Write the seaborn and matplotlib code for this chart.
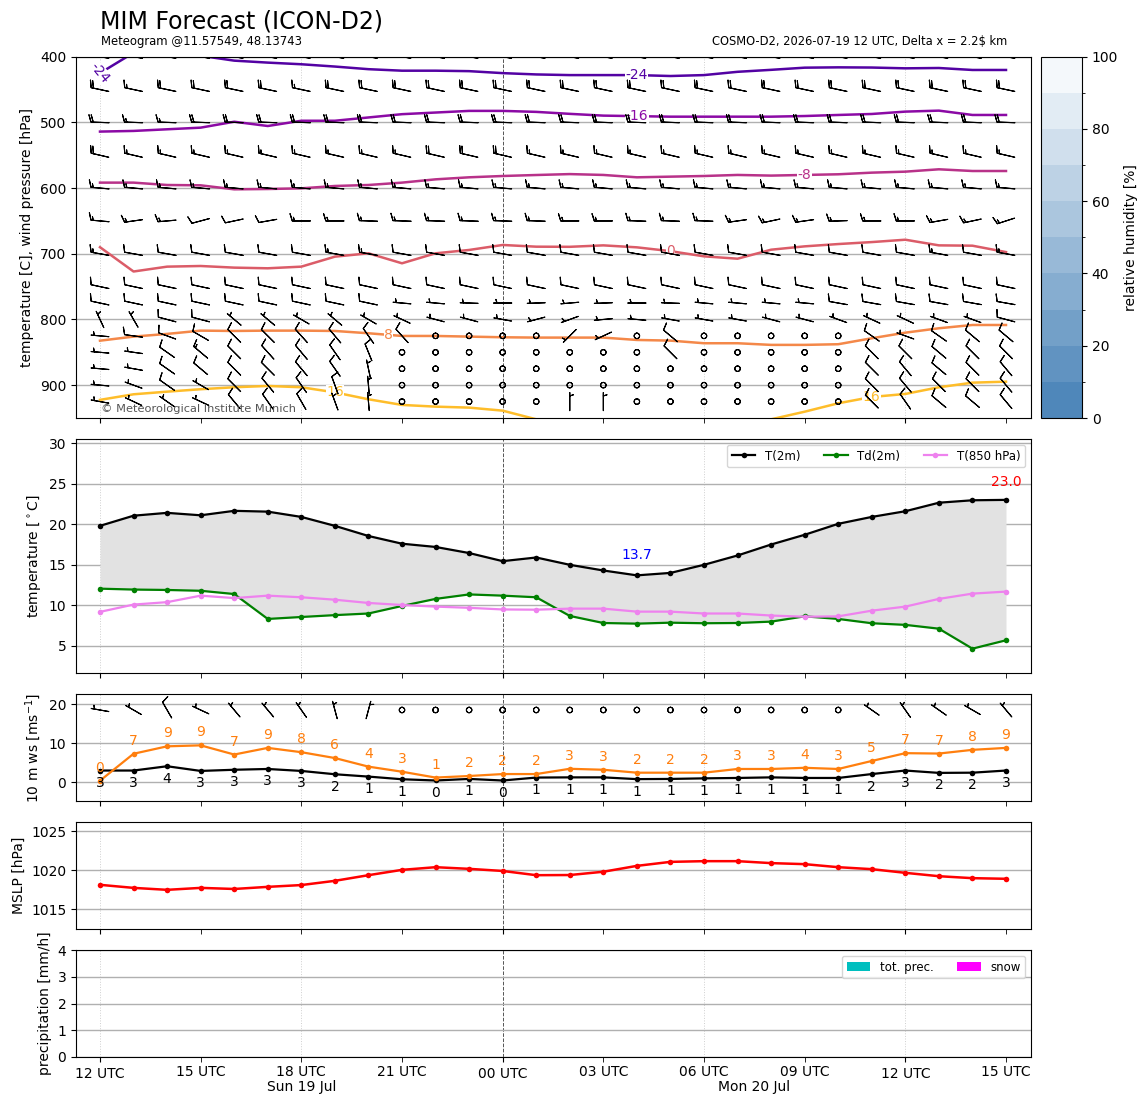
import numpy as np
import matplotlib
matplotlib.use("Agg")
import matplotlib.pyplot as plt
import seaborn as sns
from matplotlib.colors import LinearSegmentedColormap, ListedColormap, BoundaryNorm, Normalize
from matplotlib.cm import ScalarMappable
from matplotlib.ticker import FixedLocator, FixedFormatter, NullFormatter

plt.rcParams['font.family'] = ['DejaVu Sans']
plt.rcParams['font.size'] = 10

# ---------------- data ----------------
lead_hours = [0, 1, 2, 3, 4, 5, 6, 7, 8, 9, 10, 11, 12, 13,
              14, 15, 16, 17, 18, 19, 20, 21, 22, 23, 24, 25, 26, 27]

major_hours = [0, 12, 24]
major_labels = ["12 UTC", "00 UTC", "12 UTC"]
minor_hours = [3, 6, 9, 15, 18, 21, 27]
minor_labels = ["15 UTC", "18 UTC", "21 UTC", "03 UTC", "06 UTC", "09 UTC", "15 UTC"]
date_labels = ["Sun 19 Jul", "Mon 20 Jul"]
date_label_hours = [6, 19.5]
guide_hours = [0, 6, 18, 24]
midnight_hour = 12

# isotherm positions (pressure, hPa) per hour
iso_levels = [-24, -16, -8, 0, 8, 16]
iso_m24 = [425, 394, 392, 398.6, 406, 409, 411.5, 415, 419, 421.3, 421.3, 422, 425, 427,
           428, 428, 428, 429.4, 428, 423, 420, 416.7, 416.2, 416.5, 417.7, 417.2, 420.2, 420.2]
iso_m16 = [514, 513, 510.5, 508, 499, 505.5, 497.5, 497.5, 492.5, 487.5, 485, 482.5, 482.5, 484,
           487, 489.7, 490.5, 491.3, 491.3, 491.3, 491.3, 490.3, 488.7, 487.2, 483.6, 482.1, 488.7, 488.7]
iso_m8 = [591.7, 591.7, 595.3, 595.8, 601.9, 601.4, 600.4, 596.8, 595.3, 591.7, 586.7, 583.6, 581.6, 580.1,
          578.7, 580, 583.6, 582.6, 581.6, 580, 581, 580, 579, 576.5, 575, 571.4, 574, 574]
iso_0 = [690, 727, 719.6, 718.6, 721.1, 722.1, 719.6, 704.4, 699.3, 714.5, 699.3, 694.2, 686.6, 689.2,
         689.4, 687.2, 690.2, 696, 703.9, 707.5, 693.8, 688.7, 685.2, 682.2, 678.6, 687.2, 687.7, 697.4]
iso_p8 = [832.3, 826.1, 822, 817, 817.5, 817, 817, 817.5, 821, 825.1, 825.1, 826.1, 827.1, 827.6,
          827.6, 827.6, 831.2, 832.2, 836.2, 836.2, 838.7, 838.7, 837.7, 828.6, 820.1, 813.4, 808.4, 808.4]
iso_p16 = [922.4, 913.9, 909.9, 906.2, 903.2, 901.2, 903.2, 911, 921.5, 930.1, 932.7, 934.2, 938.8, 952,
           958, 962, 963, 962, 960, 957, 952, 940.4, 927.6, 918, 913.4, 903.2, 896.2, 894.7]
# label hour for each isotherm
iso_label_hours = {-24: [0, 16], -16: [16], -8: [21], 0: [17], 8: [8.6], 16: [7, 23]}

# wind barbs aloft (knots, direction in deg from)
barb_levels = [400, 450, 500, 550, 600, 650, 700, 750, 775, 800, 825, 850, 875, 900, 925]
barb_speed = [
    [25, 25, 25, 25, 25, 25, 25, 25, 25, 25, 25, 25, 25, 25, 25, 25, 25, 25, 25, 25, 25, 25, 25, 25, 25, 25, 25, 25],
    [20, 15, 20, 20, 20, 20, 15, 20, 20, 20, 20, 20, 20, 20, 20, 20, 20, 20, 20, 20, 20, 20, 20, 20, 20, 20, 20, 20],
    [20, 15, 15, 20, 20, 20, 20, 20, 20, 20, 20, 20, 20, 20, 20, 20, 20, 20, 20, 20, 20, 20, 20, 20, 20, 20, 20, 20],
    [20, 15, 15, 15, 15, 15, 15, 15, 15, 15, 20, 20, 20, 15, 15, 15, 15, 15, 15, 15, 15, 15, 15, 15, 15, 15, 15, 15],
    [15, 15, 15, 15, 15, 15, 15, 15, 15, 15, 15, 15, 15, 15, 15, 15, 15, 15, 15, 15, 15, 15, 15, 15, 15, 15, 15, 15],
    [15, 15, 15, 10, 10, 10, 15, 15, 15, 15, 15, 15, 15, 15, 15, 15, 15, 15, 15, 15, 15, 15, 15, 15, 15, 15, 15, 15],
    [15, 10, 10, 10, 10, 10, 10, 15, 15, 10, 10, 10, 10, 10, 10, 10, 10, 10, 10, 10, 10, 10, 10, 10, 10, 15, 10, 15],
    [10, 10, 10, 10, 10, 10, 10, 10, 10, 10, 10, 10, 10, 10, 10, 10, 10, 10, 10, 10, 10, 10, 10, 10, 10, 10, 10, 10],
    [10, 10, 10, 10, 10, 10, 10, 10, 10, 5, 5, 5, 5, 5, 5, 5, 5, 5, 5, 5, 5, 5, 10, 10, 10, 10, 10, 10],
    [5, 5, 10, 10, 5, 5, 5, 5, 5, 5, 5, 5, 5, 5, 5, 5, 5, 5, 5, 5, 5, 5, 5, 5, 5, 5, 5, 10],
    [5, 10, 10, 10, 10, 10, 10, 10, 10, 10, 0, 0, 0, 0, 5, 5, 0, 10, 0, 0, 0, 0, 0, 10, 5, 10, 10, 10],
    [5, 5, 10, 15, 10, 10, 10, 10, 10, 0, 0, 0, 0, 0, 0, 0, 0, 10, 0, 0, 0, 0, 0, 10, 10, 10, 10, 10],
    [5, 5, 10, 10, 10, 10, 10, 10, 5, 0, 0, 0, 0, 0, 0, 0, 0, 0, 0, 0, 0, 0, 0, 10, 10, 10, 10, 10],
    [5, 5, 10, 5, 10, 10, 10, 10, 5, 0, 0, 0, 0, 0, 0, 0, 0, 0, 0, 0, 0, 0, 0, 10, 10, 10, 10, 10],
    [5, 5, 5, 5, 10, 10, 10, 5, 5, 0, 0, 0, 0, 0, 5, 5, 0, 0, 0, 0, 0, 0, 0, 10, 10, 10, 10, 10],
]
barb_dir = [
    [280, 280, 280, 280, 280, 280, 280, 280, 280, 280, 280, 280, 280, 280, 280, 280, 280, 280, 280, 280, 280, 280, 280, 280, 280, 280, 280, 280],
    [282, 282, 282, 282, 282, 282, 282, 282, 282, 282, 282, 282, 282, 282, 282, 282, 282, 282, 282, 282, 282, 282, 282, 282, 282, 282, 282, 282],
    [272, 272, 272, 272, 272, 272, 272, 272, 272, 272, 272, 272, 272, 272, 272, 272, 272, 272, 272, 272, 272, 272, 272, 272, 272, 272, 272, 272],
    [283, 283, 283, 283, 283, 283, 283, 283, 283, 283, 283, 283, 283, 283, 283, 283, 283, 283, 283, 283, 283, 283, 283, 283, 283, 283, 283, 283],
    [275, 275, 275, 275, 275, 275, 275, 275, 275, 275, 275, 275, 275, 275, 275, 275, 275, 275, 275, 275, 275, 275, 275, 275, 275, 275, 275, 275],
    [275, 262, 265, 255, 258, 260, 270, 270, 272, 272, 272, 272, 272, 272, 270, 270, 272, 272, 272, 262, 258, 262, 268, 270, 270, 260, 258, 252],
    [280, 280, 280, 280, 280, 280, 280, 280, 280, 280, 280, 280, 280, 280, 280, 280, 280, 280, 280, 280, 280, 280, 280, 280, 280, 280, 280, 280],
    [282, 282, 282, 282, 282, 282, 282, 282, 282, 282, 282, 282, 282, 282, 282, 282, 282, 282, 282, 282, 282, 282, 282, 282, 282, 282, 282, 282],
    [282, 282, 282, 282, 282, 282, 282, 282, 282, 275, 275, 272, 270, 268, 265, 268, 270, 272, 275, 275, 275, 275, 280, 280, 280, 280, 280, 280],
    [335, 330, 285, 285, 310, 310, 300, 310, 300, 295, 285, 285, 280, 255, 250, 265, 275, 280, 280, 280, 285, 285, 290, 295, 295, 290, 290, 285],
    [275, 278, 290, 300, 315, 315, 318, 320, 325, 318, 0, 0, 0, 0, 225, 245, 0, 310, 0, 0, 0, 0, 0, 305, 290, 305, 310, 310],
    [275, 278, 305, 310, 315, 318, 320, 325, 338, 0, 0, 0, 0, 0, 0, 0, 0, 315, 0, 0, 0, 0, 0, 315, 315, 310, 315, 315],
    [275, 280, 305, 310, 315, 315, 320, 325, 348, 0, 0, 0, 0, 0, 0, 0, 0, 0, 0, 0, 0, 0, 0, 315, 320, 310, 315, 320],
    [275, 290, 305, 300, 315, 320, 325, 340, 355, 0, 0, 0, 0, 0, 0, 0, 0, 0, 0, 0, 0, 0, 0, 315, 320, 315, 315, 320],
    [280, 295, 305, 295, 320, 325, 330, 340, 355, 0, 0, 0, 0, 0, 360, 360, 0, 0, 0, 0, 0, 0, 0, 315, 325, 310, 310, 320],
]

# 2 m temperatures (degC)
t2m = [19.8, 21.05, 21.4, 21.1, 21.65, 21.55, 20.9, 19.8, 18.55, 17.6, 17.2, 16.45, 15.45, 15.9,
       15.0, 14.3, 13.7, 14.0, 15.0, 16.15, 17.5, 18.7, 20.05, 20.9, 21.6, 22.65, 22.95, 23.0]
td2m = [12.06, 11.95, 11.9, 11.8, 11.4, 8.33, 8.57, 8.8, 9.0, 9.93, 10.8, 11.35, 11.2, 11.0,
        8.7, 7.83, 7.75, 7.87, 7.8, 7.83, 8.0, 8.65, 8.33, 7.8, 7.6, 7.13, 4.67, 5.7]
t850 = [9.2, 10.1, 10.4, 11.2, 10.9, 11.2, 11.0, 10.7, 10.3, 10.05, 9.85, 9.7, 9.5, 9.47,
        9.6, 9.6, 9.23, 9.23, 9.0, 9.0, 8.75, 8.6, 8.65, 9.35, 9.85, 10.8, 11.45, 11.7]

# 10 m wind (m/s)
ws10 = [3.0, 3.0, 4.1, 2.9, 3.2, 3.4, 2.9, 2.05, 1.45, 0.77, 0.45, 0.85, 0.45, 1.2,
        1.25, 1.25, 0.8, 0.85, 1.0, 1.1, 1.25, 1.1, 1.1, 2.1, 3.0, 2.4, 2.45, 3.0]
gust10 = [0.4, 7.3, 9.2, 9.45, 7.1, 8.8, 7.7, 6.2, 4.0, 2.7, 1.2, 1.6, 2.1, 2.1,
          3.45, 3.2, 2.45, 2.45, 2.45, 3.4, 3.4, 3.7, 3.4, 5.45, 7.45, 7.35, 8.3, 8.8]
dir10 = [280, 300, 330, 295, 320, 320, 325, 345, 15, 0, 0, 0, 0, 0,
         0, 0, 0, 0, 0, 0, 0, 0, 0, 305, 325, 305, 300, 320]

# mean sea level pressure (hPa)
mslp = [1018.13, 1017.74, 1017.49, 1017.74, 1017.6, 1017.87, 1018.1, 1018.64, 1019.36, 1020.04,
        1020.38, 1020.17, 1019.9, 1019.36, 1019.38, 1019.8, 1020.55, 1021.06, 1021.15, 1021.15,
        1020.9, 1020.77, 1020.38, 1020.13, 1019.66, 1019.23, 1018.98, 1018.9]

# precipitation (mm/h)
prec_total = [0.0, 0.0, 0.0, 0.0, 0.0, 0.0, 0.0, 0.0, 0.0, 0.0, 0.0, 0.0, 0.0, 0.0,
              0.0, 0.0, 0.0, 0.0, 0.0, 0.0, 0.0, 0.0, 0.0, 0.0, 0.0, 0.0, 0.0, 0.0]
prec_snow = [0.0, 0.0, 0.0, 0.0, 0.0, 0.0, 0.0, 0.0, 0.0, 0.0, 0.0, 0.0, 0.0, 0.0,
             0.0, 0.0, 0.0, 0.0, 0.0, 0.0, 0.0, 0.0, 0.0, 0.0, 0.0, 0.0, 0.0, 0.0]

rh_levels = [0, 10, 20, 30, 40, 50, 60, 70, 80, 90, 100]

# ---------------- figure ----------------
W, H = 1148, 1105
fig = plt.figure(figsize=(W / 100, H / 100), dpi=100)


def px_rect(left, top, right, bottom):
    return [left / W, 1 - bottom / H, (right - left) / W, (bottom - top) / H]


ax_top = fig.add_axes(px_rect(76, 56.7, 1031, 418))
ax_t = fig.add_axes(px_rect(76, 439, 1031, 673))
ax_w = fig.add_axes(px_rect(76, 694, 1031, 801))
ax_p = fig.add_axes(px_rect(76, 822, 1031, 929))
ax_r = fig.add_axes(px_rect(76, 950, 1031, 1057))
cax = fig.add_axes(px_rect(1041, 56.7, 1082, 418))
axes = [ax_top, ax_t, ax_w, ax_p, ax_r]

hours = np.array(lead_hours, dtype=float)
grid_col = '#b0b0b0'
barb_len = 5.1

for ax in axes:
    ax.set_axisbelow(True)
    ax.yaxis.grid(True, color=grid_col, lw=1.0, zorder=0)
    for gh in guide_hours:
        ax.axvline(gh, color='#cfcfcf', ls=':', lw=0.7, zorder=0.5)
    ax.axvline(midnight_hour, color='#555555', ls='--', lw=0.7, zorder=0.5)

# ---- top panel: isotherms + barbs ----
iso_data = {-24: iso_m24, -16: iso_m16, -8: iso_m8, 0: iso_0, 8: iso_p8, 16: iso_p16}
iso_cmap = sns.color_palette("plasma", as_cmap=True)
iso_norm = Normalize(-32, 24)
for lev in iso_levels:
    col = iso_cmap(iso_norm(lev))
    sns.lineplot(x=hours, y=iso_data[lev], ax=ax_top, color=col, linewidth=1.8,
                 zorder=2, legend=False)
    for lh in iso_label_hours[lev]:
        py = np.interp(lh, hours, iso_data[lev])
        rot = -50 if (lev == -24 and lh == 0) else 0
        ax_top.text(lh, py, f"{lev:d}", color=col, fontsize=10, ha='center', va='center',
                    rotation=rot, zorder=3,
                    bbox=dict(facecolor='white', edgecolor='none', pad=0.3))

T, P = np.meshgrid(hours, np.array(barb_levels, dtype=float))
spd = np.array(barb_speed, dtype=float)
drad = np.deg2rad(np.array(barb_dir, dtype=float))
U = -spd * np.sin(drad)
V = -spd * np.cos(drad)
ax_top.barbs(T, P, U, V, length=barb_len, pivot='middle', linewidth=0.8, color='k', zorder=4)

ax_top.set_ylim(950, 400)
ax_top.set_yticks([400, 500, 600, 700, 800, 900])
ax_top.set_ylabel("temperature [C], wind pressure [hPa]")
ax_top.text(0.026, 0.024, "\u00a9 Meteorological Institute Munich", transform=ax_top.transAxes,
            fontsize=8.2, color='#555555', ha='left', va='center', zorder=5)

# colorbar (relative humidity)
rh_base = LinearSegmentedColormap.from_list('rh', ['#4f87ba', '#f4f8fb'])
rh_cmap = ListedColormap([rh_base(i / (len(rh_levels) - 2)) for i in range(len(rh_levels) - 1)])
rh_norm = BoundaryNorm(rh_levels, rh_cmap.N)
cb = fig.colorbar(ScalarMappable(norm=rh_norm, cmap=rh_cmap), cax=cax,
                  ticks=[0, 20, 40, 60, 80, 100])
cb.set_label("relative humidity [%]")

# ---- temperature panel ----
ax_t.fill_between(hours, t2m, td2m, color='#e2e2e2', zorder=1, lw=0)
for y, col, lab in [(t2m, 'black', 'T(2m)'), (td2m, 'green', 'Td(2m)'), (t850, 'violet', 'T(850 hPa)')]:
    sns.lineplot(x=hours, y=y, ax=ax_t, color=col, marker='o', markersize=4,
                 markeredgecolor=col, markeredgewidth=0, linewidth=1.6, label=lab, zorder=3)
i_min = int(np.argmin(t2m))
i_max = int(np.argmax(t2m))
ax_t.annotate(f"{t2m[i_min]:.1f}", (hours[i_min], t2m[i_min]), xytext=(0, 15),
              textcoords='offset points', ha='center', va='center', color='blue', fontsize=10)
ax_t.annotate(f"{t2m[i_max]:.1f}", (hours[i_max], t2m[i_max]), xytext=(0, 13),
              textcoords='offset points', ha='center', va='center', color='red', fontsize=10)
ax_t.set_ylim(min(td2m) - 3, max(t2m) + 7.5)
ax_t.set_yticks([5, 10, 15, 20, 25, 30])
ax_t.set_ylabel("temperature [$^\\circ$C]")
ax_t.legend(loc='upper right', ncol=3, fontsize=8.5)

# ---- 10 m wind panel ----
sns.lineplot(x=hours, y=ws10, ax=ax_w, color='black', marker='o', markersize=4,
             markeredgecolor='black', markeredgewidth=0, linewidth=1.6, zorder=3, legend=False)
sns.lineplot(x=hours, y=gust10, ax=ax_w, color='#ff7f0e', marker='o', markersize=4,
             markeredgecolor='#ff7f0e', markeredgewidth=0, linewidth=1.6, zorder=3, legend=False)
for h, v in zip(hours, ws10):
    ax_w.annotate(f"{v:.0f}", (h, v), xytext=(0, -9), textcoords='offset points',
                  ha='center', va='center', fontsize=10, color='black')
for h, v in zip(hours, gust10):
    ax_w.annotate(f"{v:.0f}", (h, v), xytext=(0, 9.3), textcoords='offset points',
                  ha='center', va='center', fontsize=10, color='#ff7f0e')
kn = np.array(ws10) * 1.944
d10 = np.deg2rad(np.array(dir10, dtype=float))
barb_row = np.full(len(hours), 18.5)
ax_w.barbs(hours, barb_row, -kn * np.sin(d10), -kn * np.cos(d10), length=barb_len, pivot='middle',
           linewidth=0.8, color='k', zorder=4)
ax_w.set_ylim(min(ws10) - 5.25, 22.6)
ax_w.set_yticks([0, 10, 20])
ax_w.set_ylabel("10 m ws [ms$^{-1}$]")

# ---- MSLP panel ----
sns.lineplot(x=hours, y=mslp, ax=ax_p, color='red', marker='o', markersize=4,
             markeredgecolor='red', markeredgewidth=0, linewidth=1.8, zorder=3, legend=False)
ax_p.set_ylim(min(mslp) - 5, max(mslp) + 5)
ax_p.set_yticks([1015, 1020, 1025])
ax_p.set_ylabel("MSLP [hPa]")

# ---- precipitation panel ----
ax_r.bar(hours, prec_total, width=0.8, color='c', label='tot. prec.')
ax_r.bar(hours, prec_snow, width=0.8, color='magenta', label='snow')
ax_r.set_ylim(0, 4)
ax_r.set_yticks([0, 1, 2, 3, 4])
ax_r.set_ylabel("precipitation [mm/h]")
ax_r.legend(loc='upper right', ncol=2, fontsize=8.5)

# ---- x axes ----
for ax in axes:
    ax.set_xlim(-0.715, 27.745)
    ax.xaxis.set_major_locator(FixedLocator(major_hours))
    ax.xaxis.set_minor_locator(FixedLocator(minor_hours))
    ax.tick_params(axis='x', which='major', length=3.5, pad=4.0)
    ax.tick_params(axis='x', which='minor', length=3.5, pad=2.5, labelsize=10)
    ax.set_xlabel("")
    if ax is ax_r:
        ax.xaxis.set_major_formatter(FixedFormatter(major_labels))
        ax.xaxis.set_minor_formatter(FixedFormatter(minor_labels))
    else:
        ax.xaxis.set_major_formatter(NullFormatter())
        ax.xaxis.set_minor_formatter(NullFormatter())

for dl, dh in zip(date_labels, date_label_hours):
    ax_r.annotate(dl, xy=(dh, 0), xycoords=('data', 'axes fraction'), xytext=(0, -21.5),
                  textcoords='offset points', ha='center', va='center', fontsize=10)

# ---- titles ----
fig.text(99.5 / W, 1 - 28.3 / H, "MIM Forecast (ICON-D2)", fontsize=17, ha='left', va='baseline')
fig.text(101 / W, 1 - 45 / H, "Meteogram @11.57549, 48.13743", fontsize=8.4, ha='left', va='baseline')
fig.text(1007 / W, 1 - 45 / H, "COSMO-D2, 2026-07-19 12 UTC, Delta x = 2.2\\$ km", fontsize=8.3,
         ha='right', va='baseline')

fig.savefig("out.png", dpi=100)
